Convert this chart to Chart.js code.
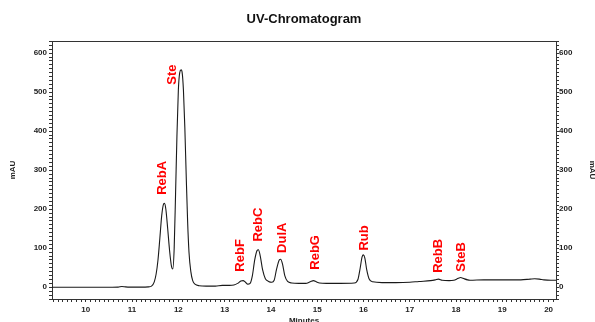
<!DOCTYPE html>
<html>
<head>
<meta charset="utf-8">
<script src="https://cdn.jsdelivr.net/npm/chart.js@4.4.1/dist/chart.umd.min.js"></script>
<style>
html, body { margin: 0; padding: 0; background: #fff; }
</style>
</head>
<body>
<canvas id="myChart" width="595" height="322"></canvas>
<script>
// trace (minutes / mAU)
var times = [9.27, 9.6, 10.0, 10.4, 10.7, 10.78, 10.86, 10.95, 11.2, 11.35, 11.42, 11.48, 11.52, 11.56, 11.6, 11.64, 11.68, 11.7, 11.73, 11.77, 11.81, 11.85, 11.88, 11.91, 11.94, 11.97, 12.0, 12.03, 12.06, 12.08, 12.11, 12.14, 12.17, 12.2, 12.23, 12.27, 12.31, 12.36, 12.45, 12.6, 12.8, 12.95, 13.1, 13.2, 13.28, 13.35, 13.4, 13.45, 13.5, 13.55, 13.6, 13.65, 13.7, 13.73, 13.77, 13.82, 13.88, 13.95, 14.02, 14.07, 14.12, 14.18, 14.21, 14.25, 14.3, 14.36, 14.45, 14.6, 14.75, 14.85, 14.92, 14.98, 15.05, 15.2, 15.5, 15.8, 15.88, 15.93, 15.97, 16.0, 16.03, 16.07, 16.12, 16.2, 16.4, 16.7, 17.0, 17.2, 17.45, 17.55, 17.62, 17.7, 17.85, 17.95, 18.05, 18.1, 18.15, 18.25, 18.3, 18.6, 19.0, 19.4, 19.6, 19.7, 19.8, 19.9, 20.05, 20.16];
var signal = [0, 0, 0, 0, 0.5, 2, 1, 0.5, 0.5, 1, 3, 14, 34, 70, 125, 183, 213, 215, 200, 150, 95, 55, 47, 100, 240, 390, 505, 550, 557, 552, 505, 410, 285, 170, 90, 40, 17, 8, 4, 3, 3, 5, 5, 6, 10, 16, 17, 13, 8, 10, 30, 70, 94, 96, 80, 45, 22, 15, 13, 18, 45, 70, 72, 60, 30, 15, 11, 10, 10, 14, 17, 14, 11, 10, 10, 11, 20, 50, 78, 83, 75, 45, 22, 14, 12, 12, 13, 15, 17, 19, 21, 18, 17, 18, 23, 25, 23, 19, 18, 19, 19, 19, 21, 22, 21, 19, 18, 18];

var peakNames = ["RebA", "Ste", "RebF", "RebC", "DulA", "RebG", "Rub", "RebB", "SteB"];
var labelTimes = [11.66, 11.88, 13.35, 13.74, 14.24, 14.96, 16.02, 17.62, 18.12];
var labelLevels = [237, 519, 40, 117, 88, 45, 94, 37, 40];

var xMin = 9.27, xMax = 20.16;
var yMin = -30, yMax = 631;

var points = [];
for (var i = 0; i < times.length; i++) {
	points.push({x: times[i], y: signal[i]});
}

var tickFont = {family: '"Liberation Sans", Arial, sans-serif', size: 8, weight: 'bold'};
var axisFont = {family: '"Liberation Sans", Arial, sans-serif', size: 8, weight: 'bold'};

var peakLabels = {
	id: 'peakLabels',
	afterDatasetsDraw: function(chart) {
		var ctx = chart.ctx;
		var xs = chart.scales.x, ys = chart.scales.y;
		ctx.save();
		ctx.fillStyle = '#ff0000';
		ctx.font = 'bold 13px "Liberation Sans", Arial, sans-serif';
		ctx.textAlign = 'left';
		ctx.textBaseline = 'middle';
		for (var i = 0; i < peakNames.length; i++) {
			ctx.save();
			ctx.translate(xs.getPixelForValue(labelTimes[i]), ys.getPixelForValue(labelLevels[i]));
			ctx.rotate(-Math.PI / 2);
			ctx.fillText(peakNames[i], 0, 0);
			ctx.restore();
		}
		ctx.restore();
	}
};

function intLabel(v) {
	return Math.abs(v - Math.round(v)) < 1e-6 ? String(Math.round(v)) : '';
}
function hundredLabel(v) {
	return (v >= 0 && Math.abs(v % 100) < 1e-6) ? String(v) : '';
}

var ctx = document.getElementById('myChart').getContext('2d');
var chart = new Chart(ctx, {
	type: 'line',
	data: {
		datasets: [{
			data: points,
			borderColor: '#1a1a1a',
			borderWidth: 1.1,
			pointRadius: 0,
			cubicInterpolationMode: 'monotone',
			fill: false
		}]
	},
	options: {
		responsive: false,
		animation: false,
		devicePixelRatio: 1,
		plugins: {
			legend: {display: false},
			tooltip: {enabled: false},
			title: {
				display: true,
				text: 'UV-Chromatogram',
				fullSize: false,
				color: '#111',
				font: {family: '"Liberation Sans", Arial, sans-serif', size: 13, weight: 'bold'},
				padding: {top: 12, bottom: 13.4}
			}
		},
		scales: {
			x: {
				type: 'linear',
				position: 'bottom',
				min: xMin,
				max: xMax,
				afterFit: function(s) { s.height = 23; },
				border: {color: '#333', width: 1},
				grid: {drawOnChartArea: false, tickLength: 3, tickColor: '#333'},
				ticks: {stepSize: 0.1, includeBounds: false, autoSkip: false, maxRotation: 0, padding: 3,
					color: '#222', font: tickFont, callback: intLabel},
				title: {display: true, text: 'Minutes', color: '#222', font: axisFont, padding: {top: 0, bottom: -4}}
			},
			x2: {
				type: 'linear',
				position: 'top',
				min: xMin,
				max: xMax,
				afterFit: function(s) { s.height = 0; },
				border: {color: '#333', width: 1},
				grid: {drawOnChartArea: false, drawTicks: false},
				ticks: {display: false}
			},
			y: {
				type: 'linear',
				position: 'left',
				min: yMin,
				max: yMax,
				afterFit: function(s) { s.width = 52; },
				border: {color: '#333', width: 1},
				grid: {drawOnChartArea: false, tickLength: 3, tickColor: '#333'},
				ticks: {stepSize: 10, includeBounds: false, autoSkip: false, padding: 2,
					color: '#222', font: tickFont, callback: hundredLabel},
				title: {display: true, text: 'mAU', color: '#222', font: axisFont, padding: {top: 8, bottom: 0}}
			},
			y2: {
				type: 'linear',
				position: 'right',
				min: yMin,
				max: yMax,
				afterFit: function(s) { s.width = 39; },
				border: {color: '#333', width: 1},
				grid: {drawOnChartArea: false, tickLength: 3, tickColor: '#333'},
				ticks: {stepSize: 10, includeBounds: false, autoSkip: false, padding: 0,
					color: '#222', font: tickFont, callback: hundredLabel},
				title: {display: true, text: 'mAU', color: '#222', font: axisFont, padding: {top: -2, bottom: 0}}
			}
		}
	},
	plugins: [peakLabels]
});
</script>
</body>
</html>
